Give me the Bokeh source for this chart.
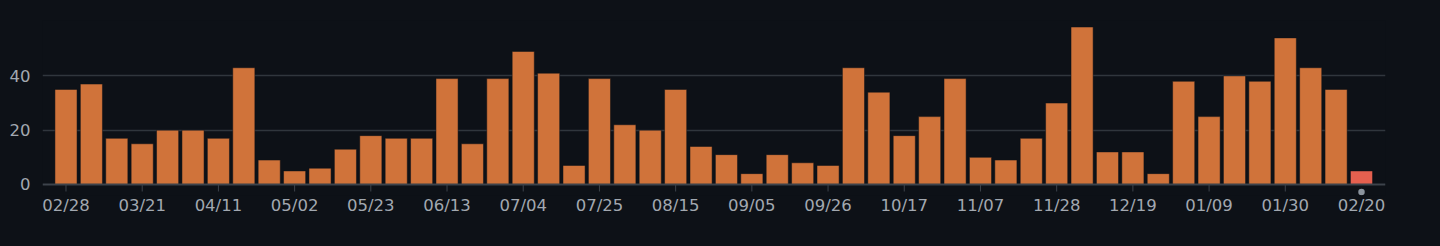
from bokeh.plotting import figure
from bokeh.models import ColumnDataSource, Range1d, FixedTicker
from bokeh.embed import file_html
from bokeh.resources import INLINE

# ---- data ----
weekly_counts = [35, 37, 17, 15, 20, 20, 17, 43, 9, 5,
                 6, 13, 18, 17, 17, 39, 15, 39, 49, 41,
                 7, 39, 22, 20, 35, 14, 11, 4, 11, 8,
                 7, 43, 34, 18, 25, 39, 10, 9, 17, 30,
                 58, 12, 12, 4, 38, 25, 40, 38, 54, 43,
                 35, 5]
tick_labels = ["02/28", "03/21", "04/11", "05/02", "05/23", "06/13",
               "07/04", "07/25", "08/15", "09/05", "09/26", "10/17",
               "11/07", "11/28", "12/19", "01/09", "01/30", "02/20"]
y_ticks = [0, 20, 40]
grid_levels = [20, 40]

BG = "#0d1117"
ORANGE = "#d0733a"
RED = "#e5604f"
TEXT = "#a2a8b0"
AXIS = "#3d434b"

n = len(weekly_counts)
xs = list(range(n))
colors = [ORANGE] * (n - 1) + [RED]
src = ColumnDataSource(dict(x=xs, top=weekly_counts, color=colors))
label_pos = list(range(0, n, 3))
tick_pos = label_pos[:-1]          # current week gets a dot instead of a tick

PX = 1 / 2.715                     # data units per pixel vertically

p = figure(width=1440, height=246, output_backend="svg", toolbar_location=None,
           x_range=Range1d(-0.925, n - 1 + 0.945),
           y_range=Range1d(-11 * PX, 60.4),
           min_border_left=42, min_border_right=55, min_border_top=20,
           min_border_bottom=51, background_fill_color=BG,
           border_fill_color=None)
p.outline_line_color = None
p.styles = {"background-color": BG}

# grid lines behind the bars
p.hspan(y=grid_levels, line_color="#30363d", line_width=1.5)

p.vbar(x="x", top="top", bottom=0, width=0.87, fill_color="color",
       line_color="#0d1117", line_width=1, line_alpha=0.5, source=src)

# baseline, ticks and current-week marker
p.hspan(y=[0], line_color=AXIS, line_width=2)
p.segment(x0=tick_pos, y0=[0] * len(tick_pos), x1=tick_pos,
          y1=[-7 * PX] * len(tick_pos), line_color=AXIS, line_width=1)
p.scatter(x=[n - 1], y=[-7.5 * PX], size=6.5, marker="circle",
          fill_color="#8b949e", line_color=None)

# y axis
p.yaxis.ticker = FixedTicker(ticks=y_ticks)
p.yaxis.axis_line_color = None
p.yaxis.major_tick_line_color = None
p.yaxis.minor_tick_line_color = None
p.yaxis.major_label_text_color = TEXT
p.yaxis.major_label_text_font = "DejaVu Sans"
p.yaxis.major_label_text_font_size = "16.5px"
p.yaxis.major_label_standoff = 6

# x axis: labels only
p.xaxis.ticker = FixedTicker(ticks=label_pos)
p.xaxis.major_label_overrides = {t: lab for t, lab in zip(label_pos, tick_labels)}
p.xaxis.axis_line_color = None
p.xaxis.major_tick_line_color = None
p.xaxis.major_tick_in = 0
p.xaxis.major_tick_out = 0
p.xaxis.minor_tick_line_color = None
p.xaxis.major_label_text_color = TEXT
p.xaxis.major_label_text_font = "DejaVu Sans"
p.xaxis.major_label_text_font_size = "16.5px"
p.xaxis.major_label_standoff = 0

p.xgrid.grid_line_color = None
p.ygrid.grid_line_color = None

html = file_html(p, INLINE)
style = "<style>html, body { background: #0d1117 !important; margin: 0; }</style>"
if "</head>" in html:
    html = html.replace("</head>", style + "</head>", 1)
else:
    html = style + html
open("out.html", "w").write(html)
